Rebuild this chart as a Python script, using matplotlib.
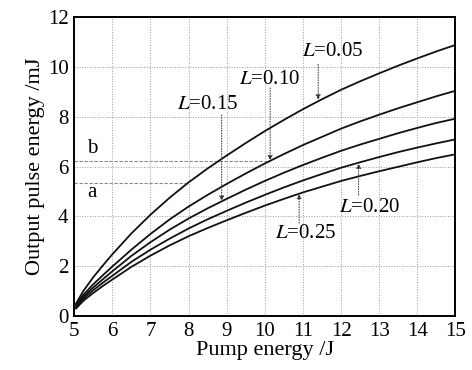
import matplotlib
matplotlib.use("Agg")
import matplotlib.pyplot as plt

plt.rcParams["font.family"] = ["Liberation Serif", "DejaVu Serif"]
plt.rcParams["mathtext.fontset"] = "stix"

# pump energy (J) where values were read
pump = [5.05, 5.25, 5.5, 5.75, 6, 6.5, 7, 7.5, 8, 8.5, 9, 9.5, 10,
        10.5, 11, 11.5, 12, 12.5, 13, 13.5, 14, 14.5, 15]

# output pulse energy (mJ) for each loss L
out_005 = [0.50, 1.02, 1.55, 2.02, 2.47, 3.31, 4.06, 4.74, 5.36, 5.92, 6.44, 6.94, 7.42,
           7.87, 8.30, 8.70, 9.08, 9.42, 9.74, 10.05, 10.34, 10.62, 10.88]
out_010 = [0.45, 0.86, 1.27, 1.63, 1.98, 2.66, 3.29, 3.87, 4.39, 4.86, 5.30, 5.72, 6.12,
           6.50, 6.86, 7.19, 7.52, 7.81, 8.08, 8.34, 8.58, 8.82, 9.04]
out_015 = [0.40, 0.78, 1.14, 1.47, 1.79, 2.41, 2.96, 3.46, 3.91, 4.32, 4.70, 5.07, 5.42,
           5.75, 6.06, 6.35, 6.63, 6.88, 7.11, 7.34, 7.55, 7.75, 7.92]
out_020 = [0.35, 0.70, 1.03, 1.33, 1.61, 2.17, 2.66, 3.10, 3.51, 3.88, 4.22, 4.55, 4.86,
           5.16, 5.44, 5.70, 5.95, 6.17, 6.38, 6.58, 6.76, 6.93, 7.09]
out_025 = [0.30, 0.62, 0.92, 1.20, 1.46, 1.97, 2.42, 2.83, 3.20, 3.53, 3.84, 4.14, 4.43,
           4.70, 4.96, 5.19, 5.42, 5.62, 5.81, 5.99, 6.17, 6.34, 6.49]

# labels: (text, text x, text y, arrow x, arrow start y, arrow tip y)
labels = [
    ("0.05", 11.77, 10.60, 11.40, 10.10, 8.68),
    ("0.10", 10.12, 9.48, 10.14, 9.15, 6.24),
    ("0.15", 8.51, 8.47, 8.87, 8.07, 4.62),
    ("0.20", 12.74, 4.37, 12.46, 4.86, 6.12),
    ("0.25", 11.06, 3.33, 10.90, 3.73, 4.90),
]

level_a, level_a_end = 5.35, 8.0
level_b, level_b_end = 6.22, 10.14

fig, ax = plt.subplots(figsize=(4.72, 3.70), dpi=100)
fig.subplots_adjust(left=0.157, right=0.965, top=0.954, bottom=0.146)

for ys in [out_005, out_010, out_015, out_020, out_025]:
    ax.plot(pump, ys, color="#111111", lw=1.3, zorder=3)

ax.plot([5, level_b_end], [level_b, level_b], color="#888888", lw=0.8, ls=(0, (3, 1.5)), zorder=2)
ax.plot([5, level_a_end], [level_a, level_a], color="#888888", lw=0.8, ls=(0, (3, 1.5)), zorder=2)
ax.text(5.47, 6.73, "b", fontsize=15, ha="center", va="center")
ax.text(5.46, 4.95, "a", fontsize=15, ha="center", va="center")

for val, tx, ty, axx, y0, y1 in labels:
    ax.text(tx, ty, r"$L$=" + val, fontsize=15, ha="center", va="center")
    ax.annotate("", xy=(axx, y1), xytext=(axx, y0),
                arrowprops=dict(arrowstyle="-|>", color="#333333", lw=0.7,
                                ls=":", mutation_scale=7, shrinkA=0, shrinkB=0))

ax.set_xlim(5, 15)
ax.set_ylim(0, 12)
ax.set_xticks(range(5, 16))
ax.set_yticks(range(0, 13, 2))
ax.tick_params(length=0, labelsize=15, pad=4)
ax.grid(True, color="#999999", ls=":", lw=0.7)
for s in ax.spines.values():
    s.set_linewidth(1.4)

ax.set_xlabel("Pump energy /J", fontsize=16, labelpad=0)
ax.set_ylabel("Output pulse energy /mJ", fontsize=16, labelpad=2)

fig.savefig("out.png", dpi=100)
